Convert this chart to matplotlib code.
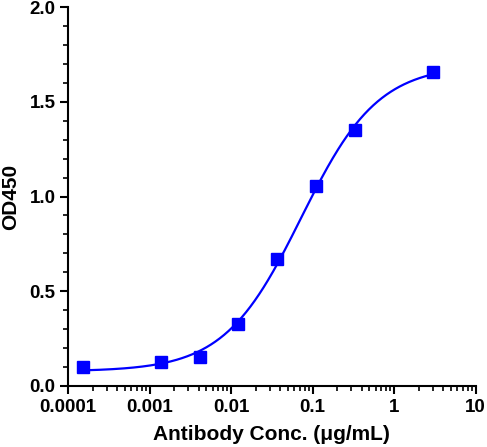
import matplotlib
matplotlib.use("Agg")
import matplotlib.pyplot as plt
from matplotlib.ticker import FixedLocator, NullFormatter, MultipleLocator, LogLocator
import numpy as np

# ELISA readings (3-fold dilution series)
conc = [0.000152, 0.00137, 0.00412, 0.0123, 0.037, 0.111, 0.333, 3.0]
od450 = [0.102, 0.128, 0.151, 0.327, 0.668, 1.055, 1.349, 1.657]

x_ticks = [0.0001, 0.001, 0.01, 0.1, 1, 10]
x_tick_labels = ["0.0001", "0.001", "0.01", "0.1", "1", "10"]
y_ticks = [0.0, 0.5, 1.0, 1.5, 2.0]


def fit_4pl(x, y):
    # grid over log EC50 and hill slope, bottom/top solved by least squares
    lx = np.log10(x)
    best = None
    for log_ec50 in np.linspace(-3, 0, 301):
        for hill in np.linspace(0.5, 2.5, 201):
            s = 1.0 / (1.0 + 10 ** ((log_ec50 - lx) * hill))
            A = np.column_stack([1 - s, s])
            coef, *_ = np.linalg.lstsq(A, y, rcond=None)
            err = np.sum((A @ coef - y) ** 2)
            if best is None or err < best[0]:
                best = (err, coef[0], coef[1], log_ec50, hill)
    return best[1:]


bottom, top, log_ec50, hill = fit_4pl(np.array(conc), np.array(od450))
xs = np.logspace(np.log10(conc[0]), np.log10(conc[-1]), 400)
ys = bottom + (top - bottom) / (1 + 10 ** ((log_ec50 - np.log10(xs)) * hill))

plt.rcParams['font.family'] = ['Liberation Sans', 'DejaVu Sans']
plt.rcParams['font.weight'] = 'bold'

fig = plt.figure(figsize=(4.87, 4.47), dpi=100)
ax = fig.add_axes([68 / 487, 1 - 386 / 447, (475.5 - 68) / 487, (386 - 7) / 447])

ax.plot(xs, ys, color='#0000ff', linewidth=1.6, zorder=2)
ax.plot(conc, od450, linestyle='none', marker='s', markersize=8.5,
        color='#0000ff', zorder=3)

ax.set_xscale('log')
ax.set_xlim(1e-4, 10)
ax.set_ylim(0, 2.0)

ax.xaxis.set_major_locator(FixedLocator(x_ticks))
ax.set_xticklabels(x_tick_labels)
ax.xaxis.set_minor_locator(LogLocator(base=10, subs=np.arange(2, 10), numticks=20))
ax.xaxis.set_minor_formatter(NullFormatter())
ax.yaxis.set_major_locator(FixedLocator(y_ticks))
ax.set_yticklabels([f"{v:.1f}" for v in y_ticks])
ax.yaxis.set_minor_locator(MultipleLocator(0.1))

for side in ['top', 'right']:
    ax.spines[side].set_visible(False)
for side in ['left', 'bottom']:
    ax.spines[side].set_linewidth(1.5)

ax.tick_params(which='major', direction='out', length=6, width=1.5,
               labelsize=13.5, pad=3)
ax.tick_params(which='minor', direction='out', length=3.5, width=1.2)
for lab in ax.get_xticklabels() + ax.get_yticklabels():
    lab.set_fontweight('bold')

ax.set_xlabel("Antibody Conc. (μg/mL)", fontsize=15, fontweight='bold', labelpad=7)
ax.set_ylabel("OD450", fontsize=15, fontweight='bold', labelpad=7)

fig.savefig("out.png", dpi=100)
